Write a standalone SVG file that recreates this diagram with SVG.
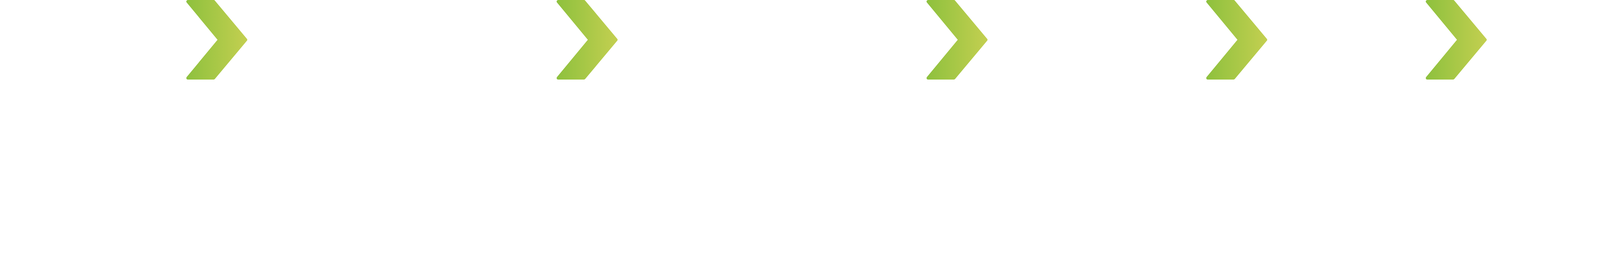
<svg xmlns="http://www.w3.org/2000/svg" width="4604" height="700" viewBox="0 0 4604 700">
  <defs>
    <linearGradient id="g" x1="0" y1="0" x2="1" y2="0">
      <stop offset="0" stop-color="#8fc13e"/>
      <stop offset="1" stop-color="#c2cf50"/>
    </linearGradient>
    <polygon id="chev" points="5,4 71,4 153,102 71,200 5,200 86,102"/>
  </defs>
  <style>
    .chev { fill: url(#g); stroke: url(#g); stroke-width: 8; stroke-linejoin: round; }
  </style>
  <rect width="4604" height="700" fill="#ffffff"/>
  <g id="chevron1" class="chev"><use href="#chev" x="476" y="0"/></g>
  <g id="chevron2" class="chev"><use href="#chev" x="1424" y="0"/></g>
  <g id="chevron3" class="chev"><use href="#chev" x="2371" y="0"/></g>
  <g id="chevron4" class="chev"><use href="#chev" x="3087" y="0"/></g>
  <g id="chevron5" class="chev"><use href="#chev" x="3649" y="0"/></g>
  <g id="connectors"/>
</svg>
